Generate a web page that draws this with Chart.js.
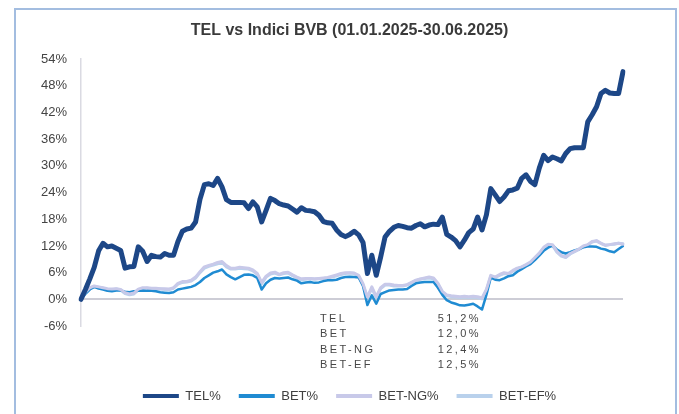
<!DOCTYPE html>
<html>
<head>
<meta charset="utf-8">
<script src="https://cdn.jsdelivr.net/npm/chart.js@4.4.1/dist/chart.umd.min.js"></script>
<style>
  body { margin: 0; background: #fff; }
  #frame { position: absolute; left: 14px; top: 8px; width: 659px; height: 420px; border: 2px solid #a3bde0; }
  #wrap { position: absolute; left: 0; top: 0; width: 679px; height: 414px; }
</style>
</head>
<body>
<div id="frame"></div>
<div id="wrap"><canvas id="chart"></canvas></div>
<script>
// daily performance since 01.01.2025, in %
const telPct = [
  0, 2.2, 4.6, 7.2, 10.9, 12.6, 11.8, 12.0, 11.5, 11.0,
  7.0, 7.3, 7.4, 11.8, 10.8, 8.5, 9.9, 9.6, 9.5, 10.3,
  9.9, 9.9, 13.0, 15.3, 15.8, 16.0, 17.4, 22.5, 25.8, 26.0,
  25.6, 27.2, 25.3, 22.4, 21.8, 21.8, 21.8, 21.7, 20.4, 21.9,
  20.8, 17.4, 20.0, 22.7, 22.2, 21.5, 21.2, 21.0, 20.3, 19.6,
  20.6, 20.0, 19.9, 19.7, 18.9, 17.5, 17.2, 17.1, 15.6, 14.6,
  14.1, 14.6, 15.3, 14.5, 12.8, 5.8, 9.9, 5.4, 9.5, 14.0,
  15.3, 16.2, 16.6, 16.4, 16.1, 16.0, 16.6, 17.0, 16.3, 16.7,
  16.9, 16.8, 18.5, 14.6, 14.0, 13.2, 11.8, 13.3, 15.0, 15.8,
  18.5, 15.6, 19.0, 24.9, 23.5, 22.0, 23.0, 24.4, 24.6, 25.0,
  27.2, 28.0, 26.5, 25.8, 29.5, 32.4, 31.2, 32.0, 31.6, 31.1,
  32.8, 33.9, 34.1, 34.1, 34.1, 39.9, 41.5, 43.3, 46.3, 47.0,
  46.4, 46.3, 46.3, 51.2
];
const betPct = [
  0, 1.2, 2.2, 2.8, 2.4, 2.2, 1.9, 1.8, 2.0, 2.0,
  1.7, 1.6, 1.8, 1.9, 2.0, 1.9, 1.9, 1.8, 1.6, 1.5,
  1.4, 1.6, 2.2, 2.4, 2.6, 2.8, 3.2, 3.9, 4.8, 5.4,
  6.0, 6.3, 6.7, 5.6, 5.0, 4.5, 5.0, 5.5, 5.6, 5.4,
  4.8, 2.2, 3.6, 4.4, 4.8, 4.7, 4.8, 4.9, 4.5, 4.2,
  3.6, 3.8, 3.9, 3.7, 3.8, 4.1, 4.3, 4.3, 4.4, 4.8,
  5.0, 5.1, 5.0, 4.9, 3.0, -1.3, 0.9, -1.0, 1.2, 1.6,
  2.0, 2.1, 2.2, 2.2, 2.3, 3.0, 3.6, 3.8, 3.9, 3.9,
  3.9, 2.6, 1.0, -0.2, -0.7, -1.0, -1.35, -1.4, -1.2, -1.0,
  -1.6, -2.3, 1.0, 4.9, 4.4, 4.3, 4.7, 5.2, 5.4, 6.2,
  6.8, 7.4, 7.9, 8.8, 9.8, 10.9, 11.6, 12.1, 11.2, 10.6,
  10.3, 10.6, 11.0, 11.3, 11.7, 11.9, 11.9, 11.8, 11.4, 11.2,
  10.8, 10.6, 11.3, 12.0
];
const betNgPct = [
  0, 1.6, 2.6, 3.0, 2.8, 2.6, 2.4, 2.3, 2.4, 2.2,
  1.5, 1.2, 1.4, 2.3, 2.6, 2.6, 2.5, 2.5, 2.4, 2.4,
  2.3, 2.6, 3.6, 4.0, 4.0, 4.3, 5.0, 6.2, 7.3, 7.6,
  7.9, 8.3, 8.5, 7.6, 7.0, 7.0, 7.2, 7.1, 7.0, 6.6,
  5.8, 3.8, 5.2, 5.9, 6.1, 5.6, 6.0, 6.1, 5.5, 5.0,
  4.6, 4.7, 4.7, 4.6, 4.7, 4.8, 4.9, 5.2, 5.5, 5.8,
  6.0, 6.0, 5.9, 5.4, 3.5, 0.5, 2.8, 0.6, 2.6, 3.4,
  3.4, 3.2, 3.1, 3.1, 3.3, 3.8, 4.3, 4.6, 4.8, 5.0,
  4.8, 3.6, 1.8, 1.0, 0.8, 0.7, 0.6, 0.7, 0.6, 0.7,
  0.6, 0.3, 2.2, 5.4, 5.0, 5.6, 6.0, 5.8, 6.5, 7.0,
  7.3, 7.8, 8.4, 9.4, 10.4, 11.7, 12.4, 12.3, 10.8, 9.9,
  9.5, 10.3, 10.8, 11.3, 12.0, 12.3, 13.0, 13.2, 12.6, 12.2,
  12.3, 12.5, 12.6, 12.4
];
const betEfPct = [
  0, 1.5, 2.4, 2.9, 2.7, 2.5, 2.2, 2.1, 2.3, 2.1,
  1.3, 1.0, 1.2, 2.1, 2.4, 2.5, 2.4, 2.4, 2.3, 2.2,
  2.2, 2.5, 3.4, 3.8, 3.9, 4.1, 4.8, 6.0, 7.0, 7.4,
  7.7, 8.0, 8.3, 7.3, 6.8, 6.8, 7.0, 6.9, 6.8, 6.4,
  5.6, 3.5, 5.0, 5.7, 5.9, 5.5, 5.8, 5.9, 5.3, 4.8,
  4.4, 4.5, 4.6, 4.5, 4.6, 4.7, 4.8, 5.0, 5.3, 5.6,
  5.8, 5.9, 5.8, 5.2, 3.2, 0.3, 2.5, 0.4, 2.4, 3.2,
  3.2, 3.0, 3.0, 3.0, 3.2, 3.7, 4.2, 4.5, 4.7, 4.8,
  4.6, 3.4, 1.6, 0.8, 0.6, 0.5, 0.4, 0.5, 0.4, 0.5,
  0.4, 0.1, 2.0, 5.2, 4.9, 5.4, 5.8, 5.7, 6.3, 6.9,
  7.2, 7.7, 8.3, 9.3, 10.3, 11.5, 12.2, 12.1, 10.6, 9.7,
  9.4, 10.2, 10.7, 11.2, 11.9, 12.2, 12.9, 13.1, 12.6, 12.1,
  12.3, 12.4, 12.6, 12.5
];
const tradingDays = telPct.map((v, i) => i + 1);

const seriesNames = ["TEL%", "BET%", "BET-NG%", "BET-EF%"];
const statNames = ["TEL", "BET", "BET-NG", "BET-EF"];
const statValues = ["51,2%", "12,0%", "12,4%", "12,5%"];
const yMin = -6, yMax = 54, yStep = 6;

const FONT = '"Liberation Sans", Arial, sans-serif';

// small table of final returns drawn under the zero line
const statsTable = {
  id: "statsTable",
  afterDraw(chart) {
    const ctx = chart.ctx;
    ctx.save();
    ctx.font = "11px " + FONT;
    ctx.letterSpacing = "2.4px";
    ctx.fillStyle = "#474747";
    ctx.textBaseline = "middle";
    statNames.forEach((name, i) => {
      const y = 319 + i * 15.3;
      ctx.textAlign = "left";
      ctx.fillText(name, 320, y);
      ctx.textAlign = "right";
      ctx.fillText(statValues[i], 481, y);
    });
    ctx.restore();
  }
};

function lineSet(label, data, color, width, order) {
  return {
    label: label,
    data: data,
    borderColor: color,
    backgroundColor: color,
    borderWidth: width,
    pointRadius: 0,
    tension: 0,
    borderJoinStyle: "round",
    borderCapStyle: "round",
    order: order,
  };
}

new Chart(document.getElementById("chart"), {
  type: "line",
  data: {
    labels: tradingDays,
    datasets: [
      lineSet(seriesNames[0], telPct, "#1d4787", 5, 0),
      lineSet(seriesNames[1], betPct, "#1f8bd2", 2.5, 2),
      lineSet(seriesNames[2], betNgPct, "#c8c9e9", 3, 1),
      lineSet(seriesNames[3], betEfPct, "#b9d1ec", 3, 3),
    ],
  },
  options: {
    responsive: true,
    maintainAspectRatio: false,
    animation: false,
    layout: { padding: { left: 20, right: 0, top: 0, bottom: 1.5 } },
    scales: {
      x: {
        display: true,
        offset: false,
        grid: { display: false },
        border: { display: false },
        ticks: { display: false },
        afterFit(scale) { scale.height = 45.5; },
      },
      y: {
        min: yMin,
        max: yMax,
        ticks: {
          stepSize: yStep,
          padding: 14,
          color: "#444",
          font: { family: FONT, size: 13 },
          callback: (v) => v + "%",
        },
        grid: {
          drawTicks: false,
          color: (c) => (c.tick && c.tick.value === 0 ? "#cdcdd6" : "rgba(0,0,0,0)"),
          lineWidth: 2,
        },
        border: { display: true, color: "#dadae2", width: 1.5 },
        afterFit(scale) { scale.width = 61; },
      },
      yRight: {
        position: "right",
        display: true,
        grid: { display: false },
        border: { display: false },
        ticks: { display: false },
        afterFit(scale) { scale.width = 56; },
      },
    },
    plugins: {
      title: {
        display: true,
        text: "TEL vs Indici BVB (01.01.2025-30.06.2025)",
        color: "#3a3a3a",
        font: { family: FONT, size: 16, weight: "bold" },
        padding: { top: 21, bottom: 19 },
      },
      legend: {
        position: "bottom",
        labels: {
          boxWidth: 36,
          boxHeight: 4,
          padding: 18,
          color: "#404040",
          font: { family: FONT, size: 13 },
          sort: (a, b) => a.datasetIndex - b.datasetIndex,
          generateLabels(chart) {
            const items = Chart.defaults.plugins.legend.labels.generateLabels(chart);
            items.forEach((it) => {
              it.fillStyle = it.strokeStyle;
              it.lineWidth = 0;
            });
            return items;
          },
        },
      },
      tooltip: { enabled: false },
    },
  },
  plugins: [statsTable],
});
</script>
</body>
</html>
